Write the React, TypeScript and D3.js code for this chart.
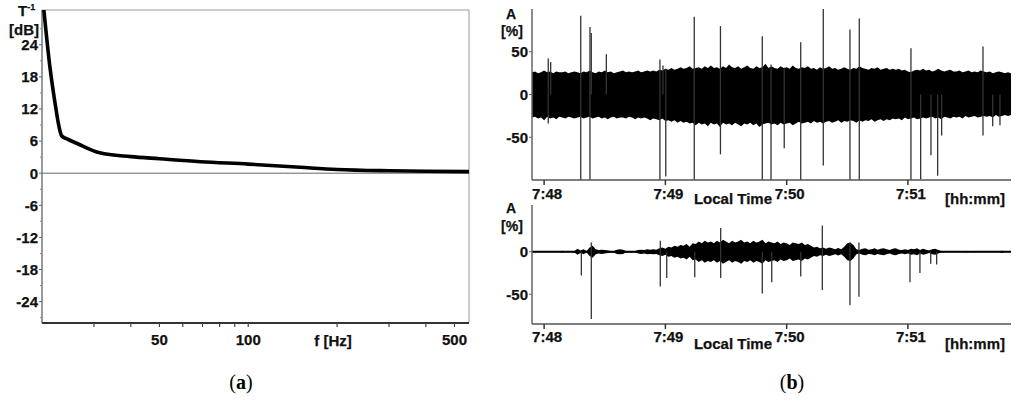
import React from 'react';
import * as d3 from 'd3';

// ---------- Panel (a): inverse transfer function ----------
const freqHz = [20.25, 21.3, 22.1, 22.9, 23.3, 24.3, 26.2, 31.4, 40, 50, 69, 100, 150, 200, 300, 400, 560];
const gainDb = [31, 19.6, 13.4, 8.4, 7.0, 6.4, 5.6, 3.8, 3.1, 2.7, 2.15, 1.7, 1.1, 0.7, 0.45, 0.35, 0.3];
const yTicksA = [-24, -18, -12, -6, 0, 6, 12, 18, 24];
const yMinorA = [-27, -21, -15, -9, -3, 3, 9, 15, 21, 27];
const xLabelsA = [50, 100, 500];
const xMinorA = [30, 40, 60, 70, 80, 90, 200, 300, 400];

// ---------- Panel (b): time series (minutes after 7:00) ----------
const timeTicks = [48, 49, 50, 51];
const tStart = 47.9;
const tStep = 0.025;

const topUpper = [
  26, 27, 25, 26, 28, 26, 27, 25, 27, 26,
  26, 27, 25, 26, 27, 26, 25, 27, 26, 28,
  26, 25, 27, 26, 28, 26, 27, 25, 26, 27,
  28, 26, 27, 26, 27, 28, 26, 27, 28, 27,
  28, 27, 29, 28, 30, 29, 31, 29, 30, 32,
  30, 31, 33, 30, 31, 32, 30, 33, 31, 34,
  31, 32, 30, 33, 31, 35, 32, 31, 33, 30,
  32, 34, 31, 30, 33, 31, 32, 36, 31, 33,
  31, 30, 33, 31, 32, 30, 34, 31, 30, 32,
  31, 33, 30, 31, 29, 32, 30, 31, 33, 30,
  31, 29, 30, 32, 30, 29, 31, 30, 33, 31,
  30, 29, 31, 30, 32, 29, 30, 31, 29, 30,
  29, 30, 28, 29, 27, 26, 28, 29, 28, 30,
  28, 29, 27, 28, 30, 28, 27, 28, 29, 27,
  27, 28, 26, 27, 28, 26, 27, 26, 28, 27,
  26, 27, 25, 26, 27, 26, 25, 26, 25,
];
const topLower = [
  -27, -26, -28, -27, -30, -26, -28, -27, -29, -26,
  -27, -28, -26, -27, -28, -27, -26, -28, -27, -26,
  -28, -27, -26, -28, -27, -29, -27, -26, -28, -27,
  -27, -28, -26, -27, -29, -27, -28, -27, -28, -30,
  -28, -29, -30, -28, -31, -30, -32, -30, -33, -31,
  -33, -32, -34, -33, -36, -33, -35, -34, -37, -33,
  -35, -34, -38, -33, -35, -34, -36, -33, -35, -37,
  -34, -35, -33, -36, -34, -38, -35, -34, -33, -35,
  -34, -36, -33, -35, -34, -33, -36, -34, -32, -34,
  -33, -32, -34, -31, -33, -32, -34, -32, -31, -33,
  -32, -30, -33, -31, -32, -30, -31, -33, -30, -32,
  -30, -31, -29, -32, -30, -29, -31, -29, -30, -28,
  -29, -28, -30, -27, -29, -28, -27, -29, -28, -27,
  -28, -27, -26, -28, -27, -29, -26, -27, -28, -26,
  -27, -26, -28, -25, -27, -26, -25, -27, -26, -25,
  -26, -25, -27, -24, -26, -25, -24, -25, -24,
];
const bottomAmp = [
  0.5, 0.5, 0.5, 0.5, 0.5, 0.5, 0.5, 0.5, 0.5, 0.5,
  1.2, 0.5, 0.5, 0.5, 0.8, 3.5, 1.5, 3, 0.8, 5,
  7, 3, 2, 2.5, 2, 1.5, 0.8, 0.8, 2.5, 3,
  2.5, 1, 0.8, 0.8, 1, 2, 2.5, 2, 3, 2.5,
  3, 2.5, 4, 5, 3.5, 6, 5, 7, 6, 8,
  7, 9, 6, 10, 9, 12, 10, 13, 11, 12,
  10, 13, 11, 14, 12, 10, 13, 11, 12, 14,
  11, 12, 10, 13, 11, 12, 14, 10, 12, 11,
  10, 12, 9, 11, 10, 8, 11, 10, 9, 11,
  8, 9, 7, 5, 6, 4, 5, 3.5, 5, 4,
  3, 4.5, 3, 6, 10, 11, 8, 3, 2, 3.5,
  4, 2.5, 3, 4, 2.5, 3.5, 4, 3, 2, 3.5,
  4, 2.5, 2, 3, 2, 3.5, 3, 4, 2, 3.5,
  2.5, 1.5, 3, 3.5, 2, 0.8, 0.5, 0.5, 0.5, 0.5,
  0.5, 0.5, 0.5, 1, 0.5, 0.5, 1, 0.5, 0.5, 0.5,
  0.5, 0.5, 0.5, 0.5, 0.5, 1.2, 0.5, 0.5, 0.5,
];
// [time, max, min]
const topSpikes: [number, number, number][] = [
  [48.034, 42, -34], [48.054, 38, 0], [48.302, 92, -100], [48.378, 79, -100],
  [48.389, 72, 0], [48.513, 47, 0], [48.955, 41, -100], [48.98, 34, 0],
  [49.003, 30, -96], [49.238, 91, -100], [49.454, 80, -70], [49.799, 68, -100],
  [49.871, 35, -100], [49.98, 30, -63], [50.116, 61, -100], [50.302, 100, -83],
  [50.522, 76, -100], [50.599, 89, -100], [51.025, 54, -100], [51.105, 0, -99],
  [51.19, 0, -71], [51.245, 0, -95], [51.278, 0, -48], [51.619, 56, -48],
  [51.699, 0, -37], [51.759, 0, -36],
];
const bottomSpikes: [number, number, number][] = [
  [48.307, 0, -28], [48.389, 11, -79], [48.958, 13, -41], [49.011, 0, -31],
  [49.242, 0, -30], [49.456, 28, -31], [49.799, 0, -49], [49.877, 0, -36],
  [50.116, 0, -29], [50.294, 31, -45], [50.522, 11, -63], [50.596, 11, -53],
  [51.017, 0, -36], [51.099, 0, -25], [51.188, 0, -14], [51.237, 0, -15],
];
const yTicksTop = [-50, 0, 50];
const yTicksBot = [-50, 0];

const envTimes = topUpper.map((_, i) => tStart + i * tStep);

const FONT = "'Liberation Sans', Arial, sans-serif";

export default function App() {
  // panel a scales
  const xA = d3.scaleLog().domain([20, 560]).range([42, 469]);
  const yA = d3.scaleLinear().domain([-28, 30.5]).range([323, 10]);
  const lineA = d3.line<number>()
    .x((_, i) => xA(freqHz[i]))
    .y((d) => yA(d))
    .curve(d3.curveMonotoneX)(gainDb) as string;

  // panel b scales
  const xB = d3.scaleLinear().domain([47.9, 51.85]).range([532, 1011]);
  const yTop = d3.scaleLinear().domain([-100, 100]).range([180, 9]);
  const yBot = d3.scaleLinear().domain([-85, 55]).range([324, 205]);

  const bandTop = d3.area<number>()
    .x((_, i) => xB(envTimes[i]))
    .y0((_, i) => yTop(topLower[i]))
    .y1((d) => yTop(d))(topUpper) as string;
  const bandBot = d3.area<number>()
    .x((_, i) => xB(envTimes[i]))
    .y0((d) => yBot(-d))
    .y1((d) => yBot(d))(bottomAmp) as string;

  const fmt = (m: number) => `7:${m}`;
  const txt = { fontFamily: FONT, fontWeight: 700, fontSize: 15, fill: '#111', stroke: '#111', strokeWidth: 0.25 } as const;

  const renderTimeAxis = (y0: number, labelY: number, titleY: number) => (
    <g>
      <line x1={532} x2={1011} y1={y0} y2={y0} stroke="#555" strokeWidth={1.5} />
      {timeTicks.map((t) => (
        <g key={t}>
          <line x1={xB(t)} x2={xB(t)} y1={y0} y2={y0 + 5} stroke="#333" strokeWidth={1.5} />
          <text x={xB(t) + 3} y={labelY} textAnchor="middle" style={txt}>{fmt(t)}</text>
        </g>
      ))}
      <text x={733} y={titleY} textAnchor="middle" style={txt}>Local Time</text>
      <text x={975} y={titleY} textAnchor="middle" style={txt}>[hh:mm]</text>
    </g>
  );

  return (
    <svg width={1024} height={403} style={{ position: 'absolute', left: 0, top: 0, background: '#fff' }}>
      <rect x={0} y={0} width={1024} height={403} fill="#fff" />
      {/* ---------- Panel a ---------- */}
      <defs>
        <clipPath id="clipA"><rect x={42} y={10} width={427} height={313} /></clipPath>
        <clipPath id="clipTop"><rect x={532} y={9} width={479} height={171} /></clipPath>
        <clipPath id="clipBot"><rect x={532} y={205} width={479} height={119} /></clipPath>
      </defs>
      <line x1={42} x2={469} y1={10} y2={10} stroke="#999" strokeWidth={1} />
      <line x1={469} x2={469} y1={10} y2={323} stroke="#999" strokeWidth={1} />
      <line x1={42} x2={469} y1={yA(0)} y2={yA(0)} stroke="#666" strokeWidth={1} />
      <line x1={42} x2={42} y1={10} y2={323} stroke="#777" strokeWidth={1.5} />
      <line x1={42} x2={469} y1={323} y2={323} stroke="#333" strokeWidth={2} />
      {yTicksA.map((v) => (
        <g key={v}>
          <line x1={39} x2={42} y1={yA(v)} y2={yA(v)} stroke="#666" />
          <text x={38} y={yA(v)} dy="0.36em" textAnchor="end" style={txt}>{v}</text>
        </g>
      ))}
      {yMinorA.map((v) => (
        <line key={v} x1={40} x2={42} y1={yA(v)} y2={yA(v)} stroke="#888" />
      ))}
      {xMinorA.concat(xLabelsA).map((f) => (
        <line key={f} x1={xA(f)} x2={xA(f)} y1={323} y2={327} stroke="#444" strokeWidth={1.2} />
      ))}
      {xLabelsA.map((f) => (
        <text key={f} x={xA(f)} y={345} textAnchor="middle" style={txt}>{f}</text>
      ))}
      <text x={333} y={346} textAnchor="middle" style={txt}>f [Hz]</text>
      <text x={18} y={16} style={txt}>T<tspan fontSize={9} dy={-6}>-1</tspan></text>
      <text x={24} y={35} textAnchor="middle" style={txt}>[dB]</text>
      <path d={lineA} fill="none" stroke="#000" strokeWidth={3.6} strokeLinejoin="round" clipPath="url(#clipA)" />

      {/* ---------- Panel b, top ---------- */}
      <g clipPath="url(#clipTop)">
        <path d={bandTop} fill="#000" />
        {topSpikes.map(([t, hi, lo], i) => (
          <line key={i} x1={xB(t)} x2={xB(t)} y1={yTop(hi)} y2={yTop(lo)} stroke="#333" strokeWidth={1.3} />
        ))}
      </g>
      <line x1={532} x2={532} y1={9} y2={180} stroke="#666" strokeWidth={1.5} />
      {yTicksTop.map((v) => (
        <g key={v}>
          <line x1={529} x2={532} y1={yTop(v)} y2={yTop(v)} stroke="#666" />
          <text x={528} y={yTop(v)} dy="0.36em" textAnchor="end" style={txt}>{v}</text>
        </g>
      ))}
      <text x={511} y={19} textAnchor="middle" style={{ ...txt, fontSize: 14 }}>A</text>
      <text x={512} y={36} textAnchor="middle" style={{ ...txt, fontSize: 14 }}>[%]</text>
      {renderTimeAxis(180, 199, 204)}

      {/* ---------- Panel b, bottom ---------- */}
      <g clipPath="url(#clipBot)">
        <line x1={532} x2={1011} y1={yBot(0)} y2={yBot(0)} stroke="#000" strokeWidth={1.8} />
        <path d={bandBot} fill="#000" />
        {bottomSpikes.map(([t, hi, lo], i) => (
          <line key={i} x1={xB(t)} x2={xB(t)} y1={yBot(hi)} y2={yBot(lo)} stroke="#333" strokeWidth={1.3} />
        ))}
      </g>
      <line x1={532} x2={532} y1={205} y2={324} stroke="#666" strokeWidth={1.5} />
      {yTicksBot.map((v) => (
        <g key={v}>
          <line x1={529} x2={532} y1={yBot(v)} y2={yBot(v)} stroke="#666" />
          <text x={528} y={yBot(v)} dy="0.36em" textAnchor="end" style={txt}>{v}</text>
        </g>
      ))}
      <text x={511} y={213} textAnchor="middle" style={{ ...txt, fontSize: 14 }}>A</text>
      <text x={512} y={231} textAnchor="middle" style={{ ...txt, fontSize: 14 }}>[%]</text>
      {renderTimeAxis(324, 342, 349)}

      {/* ---------- captions ---------- */}
      <text x={241} y={389} textAnchor="middle" style={{ fontFamily: "'Liberation Serif', 'Times New Roman', serif", fontSize: 20, fill: '#000' }}>
        (<tspan fontWeight={700}>a</tspan>)
      </text>
      <text x={792} y={389} textAnchor="middle" style={{ fontFamily: "'Liberation Serif', 'Times New Roman', serif", fontSize: 20, fill: '#000' }}>
        (<tspan fontWeight={700}>b</tspan>)
      </text>
    </svg>
  );
}
